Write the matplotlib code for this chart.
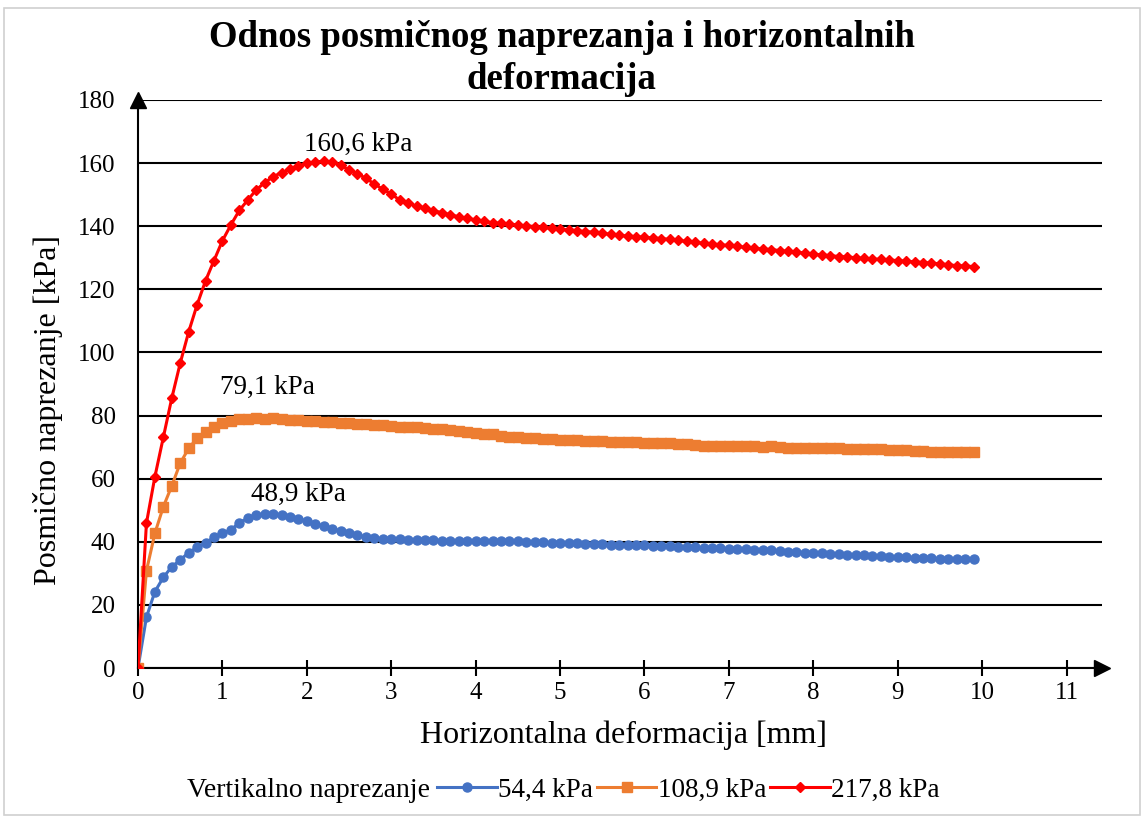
import matplotlib.pyplot as plt
from matplotlib.patches import Rectangle

# horizontalna deformacija [mm]
x = [0.0, 0.1, 0.2, 0.3, 0.4, 0.5, 0.6, 0.7, 0.8, 0.9,
     1.0, 1.1, 1.2, 1.3, 1.4, 1.5, 1.6, 1.7, 1.8, 1.9,
     2.0, 2.1, 2.2, 2.3, 2.4, 2.5, 2.6, 2.7, 2.8, 2.9,
     3.0, 3.1, 3.2, 3.3, 3.4, 3.5, 3.6, 3.7, 3.8, 3.9,
     4.0, 4.1, 4.2, 4.3, 4.4, 4.5, 4.6, 4.7, 4.8, 4.9,
     5.0, 5.1, 5.2, 5.3, 5.4, 5.5, 5.6, 5.7, 5.8, 5.9,
     6.0, 6.1, 6.2, 6.3, 6.4, 6.5, 6.6, 6.7, 6.8, 6.9,
     7.0, 7.1, 7.2, 7.3, 7.4, 7.5, 7.6, 7.7, 7.8, 7.9,
     8.0, 8.1, 8.2, 8.3, 8.4, 8.5, 8.6, 8.7, 8.8, 8.9,
     9.0, 9.1, 9.2, 9.3, 9.4, 9.5, 9.6, 9.7, 9.8, 9.9]

# posmicno naprezanje [kPa]
tau_54 = [0.0, 16.1, 24.2, 28.7, 32.1, 34.2, 36.6, 38.2, 39.7, 41.4,
          42.7, 43.7, 46.1, 47.4, 48.5, 48.8, 48.9, 48.4, 47.9, 47.2,
          46.6, 45.6, 45.0, 44.2, 43.4, 42.7, 42.0, 41.6, 41.2, 41.0,
          40.9, 40.8, 40.7, 40.6, 40.5, 40.5, 40.4, 40.4, 40.3, 40.3,
          40.2, 40.2, 40.2, 40.1, 40.1, 40.1, 40.0, 39.8, 39.8, 39.7,
          39.7, 39.6, 39.5, 39.3, 39.3, 39.2, 39.1, 39.1, 39.0, 39.0,
          38.9, 38.8, 38.7, 38.6, 38.5, 38.3, 38.2, 38.1, 38.0, 37.9,
          37.8, 37.7, 37.6, 37.5, 37.4, 37.3, 37.1, 36.8, 36.7, 36.6,
          36.5, 36.3, 36.1, 36.0, 35.9, 35.8, 35.7, 35.6, 35.5, 35.3,
          35.2, 35.1, 35.0, 34.9, 34.8, 34.6, 34.5, 34.4, 34.4, 34.4]

tau_109 = [0.0, 30.8, 42.7, 51.1, 57.7, 64.9, 69.6, 72.8, 74.9, 76.5,
           77.6, 78.4, 78.8, 79.0, 79.1, 79.0, 79.1, 78.9, 78.7, 78.6,
           78.4, 78.2, 78.0, 77.8, 77.7, 77.6, 77.4, 77.2, 77.1, 76.9,
           76.7, 76.5, 76.4, 76.3, 76.0, 75.8, 75.6, 75.4, 75.2, 74.9,
           74.6, 74.3, 74.0, 73.6, 73.3, 73.1, 73.0, 72.9, 72.7, 72.5,
           72.4, 72.3, 72.2, 72.0, 71.9, 71.8, 71.7, 71.6, 71.5, 71.5,
           71.4, 71.3, 71.3, 71.2, 71.1, 70.9, 70.7, 70.5, 70.5, 70.4,
           70.4, 70.3, 70.2, 70.2, 70.1, 70.2, 70.0, 69.8, 69.8, 69.7,
           69.8, 69.7, 69.6, 69.6, 69.5, 69.5, 69.5, 69.4, 69.3, 69.2,
           69.1, 69.0, 68.9, 68.9, 68.6, 68.4, 68.5, 68.4, 68.6, 68.3]

tau_218 = [0.0, 45.9, 60.6, 73.1, 85.5, 96.6, 106.5, 115.1, 122.7, 129.1,
           135.4, 140.4, 145.0, 148.3, 151.5, 153.8, 155.7, 157.0, 158.0, 159.1,
           159.9, 160.4, 160.6, 160.4, 159.4, 157.8, 156.6, 155.2, 153.4, 151.7,
           150.2, 148.3, 147.3, 146.4, 145.7, 144.9, 144.3, 143.6, 143.0, 142.5,
           142.0, 141.5, 141.1, 140.9, 140.7, 140.4, 140.1, 139.9, 139.6, 139.4,
           139.1, 138.8, 138.6, 138.3, 138.1, 137.8, 137.4, 137.1, 136.9, 136.7,
           136.5, 136.3, 136.1, 135.8, 135.5, 135.2, 134.9, 134.6, 134.4, 134.1,
           133.9, 133.6, 133.3, 133.0, 132.8, 132.6, 132.3, 132.0, 131.8, 131.5,
           131.2, 130.9, 130.7, 130.4, 130.3, 130.0, 129.8, 129.6, 129.5, 129.3,
           129.1, 128.9, 128.7, 128.5, 128.3, 128.1, 127.8, 127.5, 127.4, 127.2]

labels = ['54,4 kPa', '108,9 kPa', '217,8 kPa']
peak_labels = ['48,9 kPa', '79,1 kPa', '160,6 kPa']

plt.rcParams['font.family'] = ['Liberation Serif', 'DejaVu Serif']

W, H = 1146, 821
fig = plt.figure(figsize=(W / 100, H / 100), dpi=100)
fig.patches.append(Rectangle((4 / W, 6 / H), 1 - 10 / W, 1 - 14 / H, transform=fig.transFigure,
                             fill=False, edgecolor='#d0d0d0', lw=1.2))

ax = fig.add_axes([138 / W, 1 - 668 / H, 964 / W, 568 / H])

l1, = ax.plot(x, tau_54, color='#4472c4', lw=2.2, marker='o', ms=6.5, label=labels[0], zorder=3)
l2, = ax.plot(x, tau_109, color='#ed7d31', lw=2.2, marker='s', ms=6.5, label=labels[1], zorder=3)
l3, = ax.plot(x, tau_218, color='#ff0000', lw=2.2, marker='D', ms=5.5, label=labels[2], zorder=3)

# oznake vrsnih vrijednosti
for ys, txt, off in [(tau_54, peak_labels[0], (18, 5)),
                     (tau_109, peak_labels[1], (8, 13)),
                     (tau_218, peak_labels[2], (25, 3))]:
    i = ys.index(max(ys))
    ax.annotate(txt, xy=(x[i], ys[i]), xytext=off, textcoords='offset points',
                ha='center', va='bottom', fontsize=19.5)

ax.set_xlim(0, 11.42)
ax.set_ylim(0, 180)
ax.set_xticks(range(0, 12))
ax.set_yticks(range(0, 181, 20))
ax.grid(axis='y', color='black', lw=1.5, zorder=1)
ax.set_axisbelow(True)
for s in ['top', 'right']:
    ax.spines[s].set_visible(False)
for s in ['left', 'bottom']:
    ax.spines[s].set_linewidth(1.5)
ax.tick_params(axis='x', direction='inout', length=12, width=1.5, labelsize=18, pad=4)
ax.tick_params(axis='y', length=0, labelsize=18, pad=16)

# strelice na osima
ax.plot(0, 1, marker='^', ms=11, color='black', transform=ax.transAxes, clip_on=False)
ax.plot(1, 0, marker='>', ms=11, color='black', transform=ax.transAxes, clip_on=False)

fig.text(0.49, 1 - 20 / H, 'Odnos posmičnog naprezanja i horizontalnih\ndeformacija',
         ha='center', va='top', fontsize=26.5, fontweight='bold', linespacing=1.25)
fig.text(623 / W, 1 - 735 / H, 'Horizontalna deformacija [mm]', ha='center', va='center', fontsize=23)
fig.text(48 / W, 1 - 410 / H, 'Posmično naprezanje [kPa]', ha='center', va='center',
         rotation=90, fontsize=23)

fig.text(187 / W, 1 - 790 / H, 'Vertikalno naprezanje', ha='left', va='center', fontsize=20)
fig.legend(handles=[l1, l2, l3], loc='center left', bbox_to_anchor=(437 / W, 1 - 790 / H),
           ncol=3, frameon=False, fontsize=19.5, handlelength=2.2, handletextpad=0.05,
           columnspacing=0.15, borderpad=0, borderaxespad=0)

fig.savefig('out.png', dpi=100)
